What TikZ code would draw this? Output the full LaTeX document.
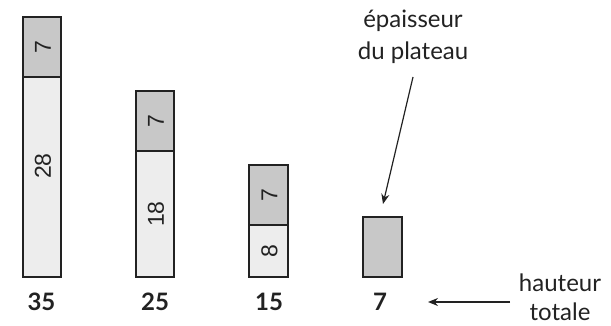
\documentclass[tikz,border=0pt]{standalone}
\usepackage{fontspec}
\setmainfont{Lato}
\newfontfamily\numfont{Liberation Sans}
\usetikzlibrary{arrows.meta}
\definecolor{darkfill}{HTML}{C8C8C8}
\definecolor{lightfill}{HTML}{EDEDED}
\definecolor{edge}{HTML}{222222}
\begin{document}
\begin{tikzpicture}[x=1pt,y=-1pt,
  seg/.style={draw=edge,line width=2.5pt},
  inner/.style={rotate=90,font=\numfont\fontsize{23}{23}\selectfont,text=edge,inner sep=0pt},
  total/.style={anchor=base,font=\bfseries\fontsize{24}{24}\selectfont,text=edge,inner sep=0pt},
  lab/.style={anchor=base,font=\fontsize{24}{24}\selectfont,text=edge,inner sep=0pt},
  arr/.style={draw=edge,line width=1.2pt,-{Stealth[length=10pt,width=8pt]}}]
\useasboundingbox (0,0) rectangle (611,326);
% bar 1
\draw[seg,fill=lightfill] (23,77) rectangle (61,277);
\draw[seg,fill=darkfill] (23,17) rectangle (61,77);
\node[inner] (b1a) at (43,47) {7};
\node[inner] (b1b) at (43,166) {28};
\node[total] (t1) at (41.5,310) {35};
% bar 2
\draw[seg,fill=lightfill] (136,151) rectangle (174,277);
\draw[seg,fill=darkfill] (136,91) rectangle (174,151);
\node[inner] (b2a) at (156,121) {7};
\node[inner] (b2b) at (156,214) {18};
\node[total] (t2) at (155,310) {25};
% bar 3
\draw[seg,fill=lightfill] (249,225) rectangle (288,277);
\draw[seg,fill=darkfill] (249,165) rectangle (288,225);
\node[inner] (b3a) at (269.5,195) {7};
\node[inner] (b3b) at (269.5,251) {8};
\node[total] (t3) at (269,310) {15};
% bar 4
\draw[seg,fill=darkfill] (363,217) rectangle (402,277);
\node[total] (t4) at (380,310) {7};
% labels
\node[lab] (ep1) at (413,28) {épaisseur};
\node[lab] (ep2) at (413,60) {du plateau};
\node[lab] (ht1) at (560,291) {hauteur};
\node[lab] (ht2) at (560,320) {totale};
\coordinate (e1) at (413,77);
\coordinate (e2) at (383,204);
\coordinate (h1) at (510,302);
\coordinate (h2) at (428,302);
\draw[arr] (e1) -- (e2);
\draw[arr] (h1) -- (h2);
\end{tikzpicture}
\end{document}
